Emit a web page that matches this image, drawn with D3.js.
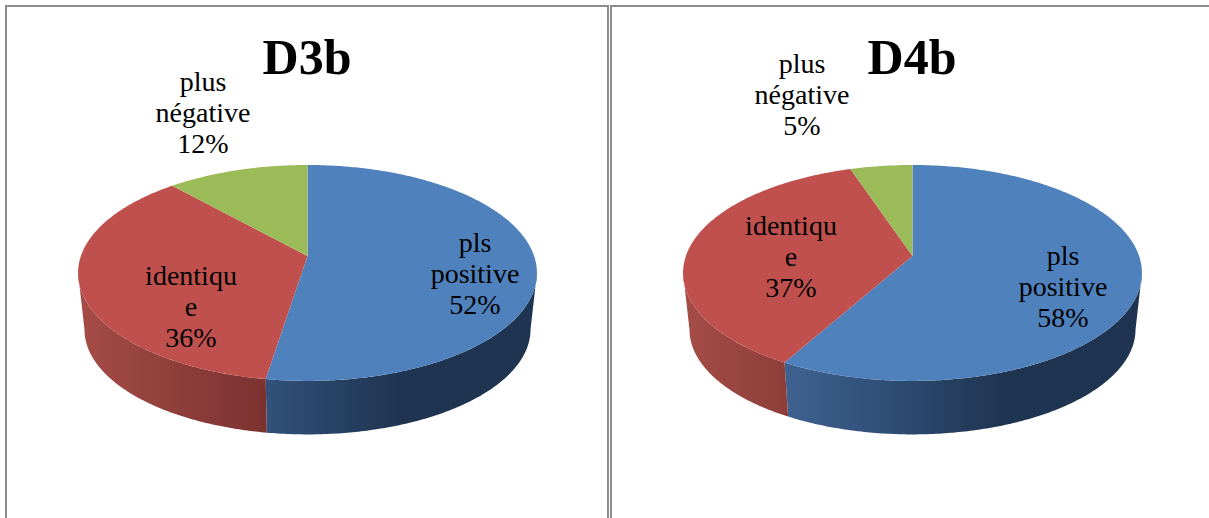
<!DOCTYPE html>
<html>
<head>
<meta charset="utf-8">
<script src="https://cdn.jsdelivr.net/npm/d3@7"></script>
<style>
html, body { margin: 0; padding: 0; background: #fff; overflow: hidden; }
svg { display: block; }
text { font-family: "Liberation Serif", serif; fill: #000; text-anchor: middle; }
</style>
</head>
<body>
<div id="d3js_canvas"></div>
<script>
const width = 1209
const height = 518

const titles = ['D3b', 'D4b']
const categories = ['pls positive', 'identique', 'plus négative']
// how the label text wraps inside its box in the original
const labelLines = [['pls', 'positive'], ['identiqu', 'e'], ['plus', 'négative']]
const valuesD3b = [52.49, 35.9, 11.61]
const valuesD4b = [58.1, 36.8, 5.1]
const seriesValues = [valuesD3b, valuesD4b]

const topColors = ['#4f81bd', '#c0504d', '#9bbb59']

// wall shading, from left to right of the pie
const wallStops = [
    [{ o: 0.2, c: '#406493' }, { o: 0.42, c: '#31507a' }, { o: 0.7, c: '#1f3450' }, { o: 1, c: '#1f3450' }],
    [{ o: 0, c: '#a64c47' }, { o: 0.22, c: '#8e3e3a' }, { o: 0.42, c: '#7a3230' }, { o: 1, c: '#7a3230' }],
    [{ o: 0, c: '#6f8840' }, { o: 1, c: '#6f8840' }]
]

// layout of each panel
const panels = [
    { x: 6, cx: 307.5, w: 602, titleX: 307, labels: [[475, 252], [191, 285], [203, 91]] },
    { x: 611, cx: 912.5, w: 640, titleX: 912, labels: [[1063, 265], [791, 235], [802, 73]] }
]
const apexY = 256
const persp = 0.157
const radiusX = 226.6
const radiusY = 105.3
const wallScale = 0.972
const wallDrop = 57
const lineHeight = 31

const svg = d3.select('#d3js_canvas').append('svg')
    .attr('width', width)
    .attr('height', height)
const defs = svg.append('defs')

const pie = d3.pie().sort(null).value(d => d)
const pct = d3.format('.0f')
const line = d3.line()

// perspective view of the flat disc: far side is squeezed, near side stretched
function project(a, cx, lower) {
    const w = 1 + persp * Math.cos(a)
    const x = radiusX * Math.sin(a) / w
    const y = -radiusY * Math.cos(a) / w
    if (lower) return [cx + x * wallScale, apexY + wallDrop + y * wallScale]
    return [cx + x, apexY + y]
}

function rim(a0, a1, cx, lower) {
    const n = Math.max(2, Math.ceil((a1 - a0) * 90))
    return d3.range(n + 1).map(i => project(a0 + (a1 - a0) * i / n, cx, lower))
}

// widest screen points of the rim, the wall is only visible between them
const sideA = Math.acos(-persp)
const wallFrom = sideA
const wallTo = 2 * Math.PI - sideA

panels.forEach((panel, p) => {
    const g = svg.append('g').attr('class', 'panel')
    const arcs = pie(seriesValues[p])

    g.append('rect')
        .attr('x', panel.x)
        .attr('y', 6)
        .attr('width', panel.w)
        .attr('height', height + 20)
        .attr('fill', '#fff')
        .attr('stroke', '#8c8c8c')
        .attr('stroke-width', 2)

    // gradients for the walls
    wallStops.forEach((stops, i) => {
        const grad = defs.append('linearGradient')
            .attr('id', `wall-${p}-${i}`)
            .attr('gradientUnits', 'userSpaceOnUse')
            .attr('x1', panel.cx - 229.5)
            .attr('x2', panel.cx + 229.5)
            .attr('y1', 0)
            .attr('y2', 0)
        grad.selectAll('stop').data(stops).join('stop')
            .attr('offset', d => d.o)
            .attr('stop-color', d => d.c)
    })

    // walls
    arcs.forEach((d, i) => {
        const a0 = Math.max(d.startAngle, wallFrom)
        const a1 = Math.min(d.endAngle, wallTo)
        if (a1 <= a0) return
        const pts = rim(a0, a1, panel.cx, false).concat(rim(a0, a1, panel.cx, true).reverse())
        g.append('path')
            .attr('d', line(pts) + 'Z')
            .attr('fill', `url(#wall-${p}-${i})`)
    })

    // top of the pie
    g.selectAll('path.slice').data(arcs).join('path')
        .attr('class', 'slice')
        .attr('d', d => line([[panel.cx, apexY]].concat(rim(d.startAngle, d.endAngle, panel.cx, false))) + 'Z')
        .attr('fill', (d, i) => topColors[i])

    g.append('text')
        .attr('x', panel.titleX)
        .attr('y', 74)
        .attr('font-size', 50)
        .attr('font-weight', 'bold')
        .text(titles[p])

    // labels
    categories.forEach((cat, i) => {
        const rows = labelLines[i].concat(pct(seriesValues[p][i]) + '%')
        const label = g.append('text').attr('class', 'label').attr('font-size', 28)
        rows.forEach((row, r) => {
            label.append('tspan')
                .attr('x', panel.labels[i][0])
                .attr('y', panel.labels[i][1] + r * lineHeight)
                .text(row)
        })
    })
})
</script>
</body>
</html>
